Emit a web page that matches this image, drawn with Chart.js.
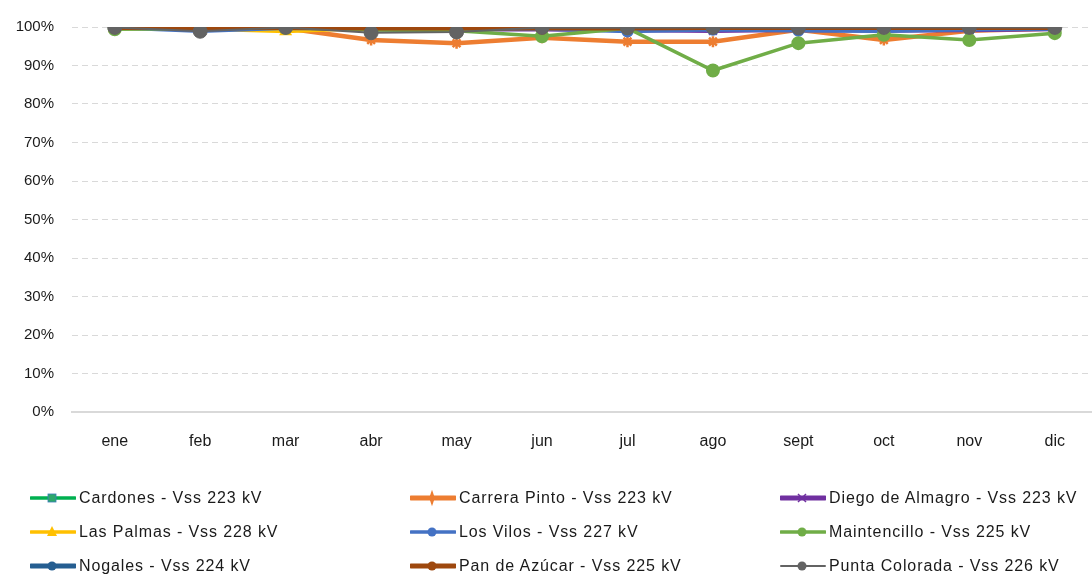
<!DOCTYPE html>
<html>
<head>
<meta charset="utf-8">
<script src="https://cdn.jsdelivr.net/npm/chart.js@4/dist/chart.umd.min.js"></script>
<style>
  html, body { margin:0; padding:0; background:#fff; overflow:hidden; width:1092px; height:577px; }
  #wrap { position:absolute; left:0; top:0; width:1106px; height:470px; }
  #legend { position:absolute; left:0; top:0; width:1092px; height:577px; pointer-events:none; }
  .item { position:absolute; height:20px; display:flex; align-items:center; font-family:"Liberation Sans", Arial, sans-serif; font-size:16px; letter-spacing:0.9px; color:#1a1a1a; white-space:nowrap; }
  .item svg { display:block; margin-right:3px; }
</style>
</head>
<body>
<div id="wrap"><canvas id="c" width="1106" height="470"></canvas></div>
<div id="legend"></div>
<script>
const months = ["ene","feb","mar","abr","may","jun","jul","ago","sept","oct","nov","dic"];
const yTicks = [0,10,20,30,40,50,60,70,80,90,100];

const seriesNames = [
  "Cardones - Vss 223 kV",
  "Carrera Pinto - Vss 223 kV",
  "Diego de Almagro - Vss 223 kV",
  "Las Palmas - Vss 228 kV",
  "Los Vilos - Vss 227 kV",
  "Maintencillo - Vss 225 kV",
  "Nogales - Vss 224 kV",
  "Pan de Azúcar - Vss 225 kV",
  "Punta Colorada - Vss 226 kV"
];

const cardones      = [99.9, 99.9, 99.9, 99.9, 99.9, 99.9, 99.9, 99.9, 99.9, 99.9, 99.9, 99.9];
const carreraPinto  = [99.8, 99.6, 99.7, 96.6, 95.8, 97.2, 96.2, 96.2, 99.3, 96.6, 99.0, 99.6];
const diegoAlmagro  = [99.9, 99.8, 99.9, 99.5, 99.4, 99.4, 99.2, 99.0, 99.3, 99.1, 99.2, 99.5];
const lasPalmas     = [99.6, 99.5, 98.8, 99.7, 99.6, 99.7, 99.7, 99.7, 99.8, 99.8, 99.8, 99.8];
const losVilos      = [99.8, 98.9, 99.7, 99.6, 99.5, 99.5, 98.8, 99.3, 99.0, 98.9, 99.3, 99.5];
const maintencillo  = [99.4, 99.6, 99.8, 99.2, 99.0, 97.6, 99.7, 88.7, 95.8, 98.0, 96.6, 98.4];
const nogales       = [100, 100, 100, 100, 100, 100, 100, 100, 100, 100, 100, 100];
const panAzucar     = [99.8, 99.8, 99.8, 99.7, 99.7, 99.7, 99.7, 99.8, 99.8, 99.8, 99.8, 99.8];
const puntaColorada = [99.9, 98.9, 99.9, 98.5, 98.7, 99.9, 99.8, 99.9, 99.8, 99.9, 99.9, 99.9];

const seriesData = [cardones, carreraPinto, diegoAlmagro, lasPalmas, losVilos, maintencillo, nogales, panAzucar, puntaColorada];

const styles = [
  {line:"#00B050", fill:"#2DA86B", pt:"rect",     r:5.5, bw:3, lw:3.5},
  {line:"#ED7D31", fill:"#ED7D31", pt:"star",     r:5.5, bw:2.5, lw:4.5},
  {line:"#7030A0", fill:"#7030A0", pt:"crossRot", r:5.5, bw:2, lw:4.5},
  {line:"#FFC000", fill:"#FFC000", pt:"triangle", r:5.5, bw:2, lw:3.5},
  {line:"#4472C4", fill:"#4472C4", pt:"circle",   r:5,   bw:2, lw:3.5},
  {line:"#70AD47", fill:"#70AD47", pt:"circle",   r:6,   bw:2, lw:3.5},
  {line:"#255E91", fill:"#255E91", pt:"circle",   r:5.5, bw:2, lw:4.5},
  {line:"#9E480E", fill:"#9E480E", pt:"circle",   r:5.5, bw:2, lw:4.5},
  {line:"#636363", fill:"#636363", pt:"circle",   r:7,   bw:1, lw:2}
];

const datasets = seriesData.map((d, i) => ({
  label: seriesNames[i],
  data: d,
  borderColor: styles[i].line,
  backgroundColor: styles[i].fill,
  pointBackgroundColor: styles[i].fill,
  pointBorderColor: styles[i].line,
  pointStyle: styles[i].pt,
  pointRadius: styles[i].r,
  pointBorderWidth: styles[i].bw,
  borderWidth: styles[i].lw,
  tension: 0,
  order: seriesData.length - i
}));

new Chart(document.getElementById("c"), {
  type: "line",
  data: { labels: months, datasets },
  options: {
    responsive: false,
    animation: false,
    layout: { padding: { top: 22, right: 0, left: 0, bottom: 0 } },
    plugins: { legend: { display: false }, tooltip: { enabled: false } },
    scales: {
      x: {
        offset: true,
        grid: { display: false, drawTicks: false },
        border: { display: true, color: "#d9d9d9", width: 2 },
        ticks: { color: "#1a1a1a", font: { family: "Liberation Sans", size: 16 }, padding: 20, maxRotation: 0 },
        afterFit: s => { s.height = 58; }
      },
      y: {
        min: 0, max: 100,
        afterBuildTicks: s => { s.ticks = yTicks.map(v => ({ value: v })); },
        grid: { color: "#d9d9d9", lineWidth: 1, drawTicks: false },
        border: { display: false, dash: [6, 4] },
        ticks: { color: "#1a1a1a", font: { family: "Liberation Sans", size: 15 }, padding: 18, callback: v => v + "%" },
        afterFit: s => { s.width = 72; }
      }
    }
  }
});

// HTML legend
const legendPos = [
  [30, 498], [410, 498], [780, 498],
  [30, 532], [410, 532], [780, 532],
  [30, 566], [410, 566], [780, 566]
];
function markerSvg(st) {
  const c = st.fill, l = st.line;
  let m = "";
  if (st.pt === "rect") m = `<rect x="18" y="6" width="8" height="8" fill="${c}" stroke="#3a7ab8" stroke-width="0.8"/>`;
  else if (st.pt === "star") m = `<path d="M22 4 L24 10 L30 10 L24 10 L22 16 L20 10 L14 10 L20 10 Z" fill="${c}" stroke="${c}" stroke-width="1.5"/>`;
  else if (st.pt === "crossRot") m = `<path d="M18 6 L26 14 M26 6 L18 14" stroke="${c}" stroke-width="1.5"/>`;
  else if (st.pt === "triangle") m = `<path d="M22 4 L27 14 L17 14 Z" fill="${c}"/>`;
  else m = `<circle cx="22" cy="10" r="4.5" fill="${c}"/>`;
  return `<svg width="46" height="20"><line x1="1" y1="10" x2="45" y2="10" stroke="${l}" stroke-width="${st.lw >= 4 ? 5 : (st.lw === 2 ? 2 : 3.5)}" stroke-linecap="round"/>${m}</svg>`;
}
const lg = document.getElementById("legend");
seriesNames.forEach((name, i) => {
  const d = document.createElement("div");
  d.className = "item";
  d.style.left = legendPos[i][0] + "px";
  d.style.top = (legendPos[i][1] - 10) + "px";
  d.innerHTML = markerSvg(styles[i]) + `<span>${name}</span>`;
  lg.appendChild(d);
});
</script>
</body>
</html>
